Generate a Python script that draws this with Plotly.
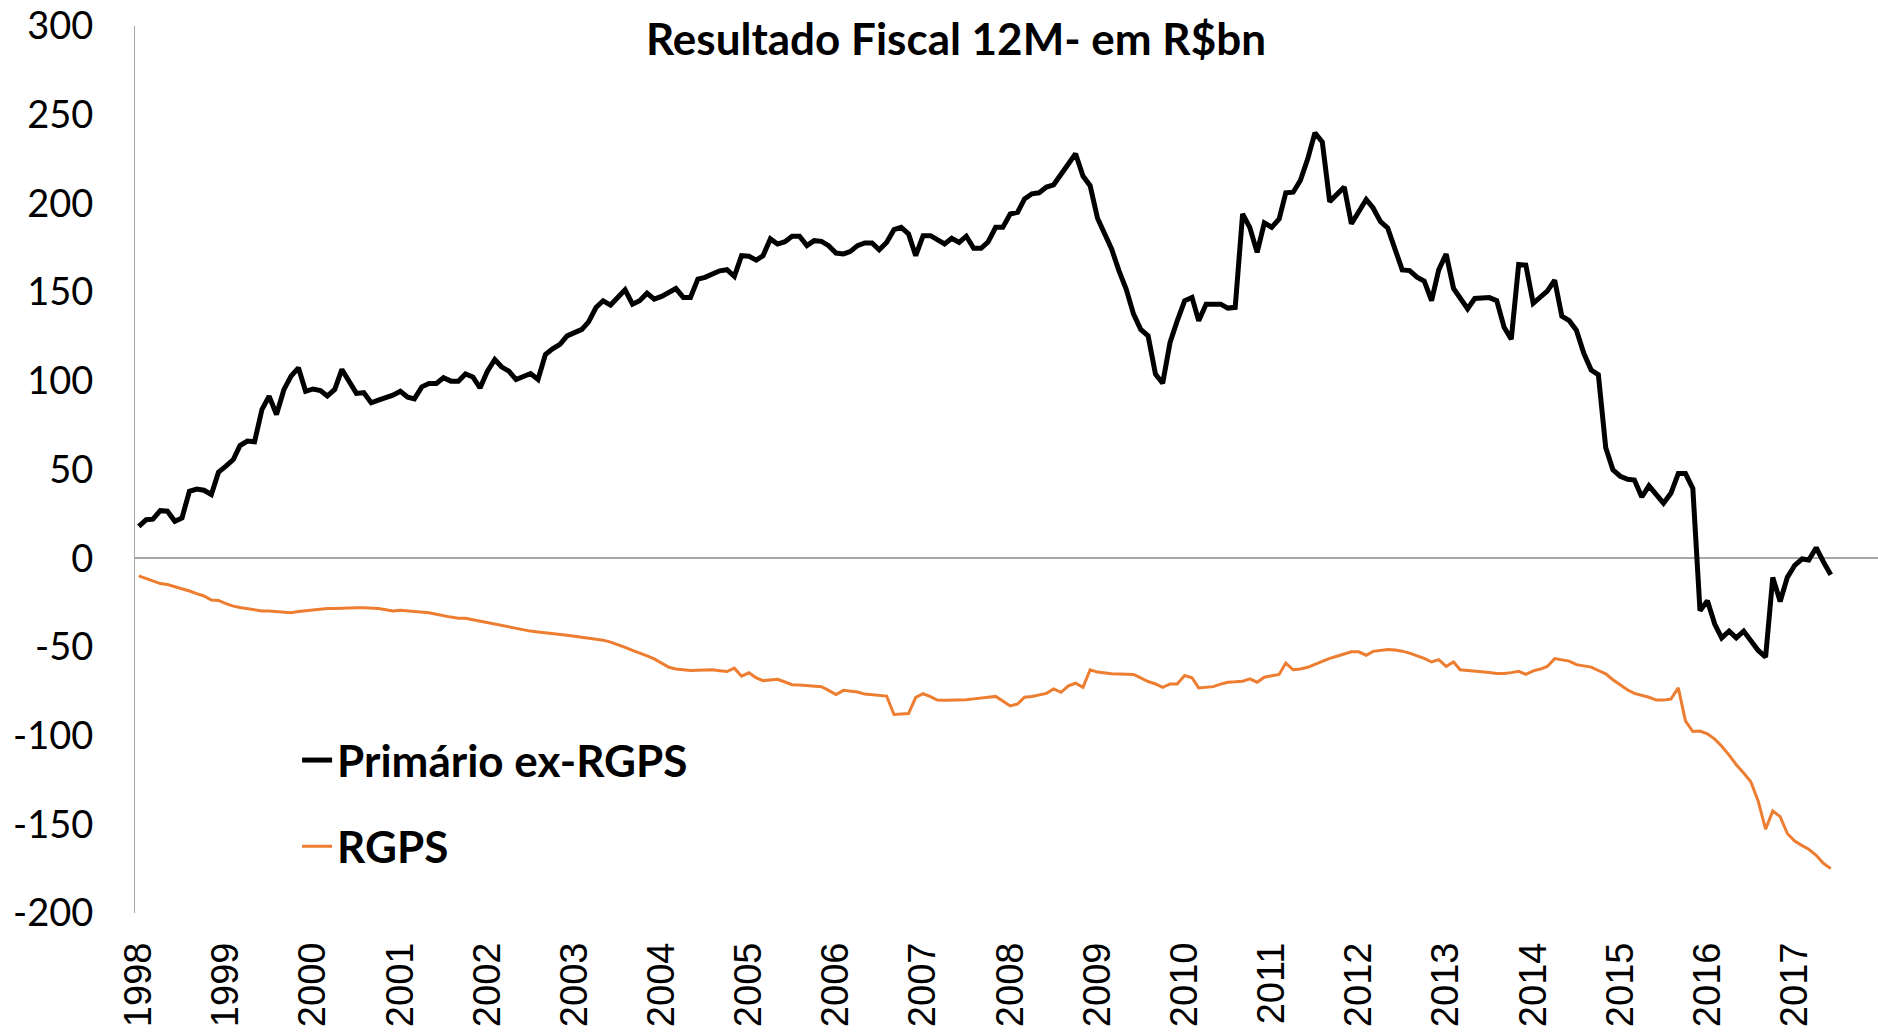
import pandas as pd
import plotly.graph_objects as go

# Monthly 12M fiscal results, R$ bn, Jan 1998 .. Jun 2017
primario_ex_rgps = [
    18, 21.7, 22, 26.8, 26.5, 20.8, 22.7, 37.7, 39, 38.3, 35.9, 48.5,            # 1998
    51.9, 55.6, 63.5, 66, 65.6, 83.8, 91.4, 81, 95, 102.6, 107.3, 94.1,          # 1999
    95.4, 94.5, 91.4, 95.1, 106.4, 98.9, 92.9, 93.3, 87.6, 89.1, 90.4, 91.9,     # 2000
    94.1, 90.8, 89.8, 96.6, 98.5, 98.5, 101.7, 99.8, 99.8, 103.9, 102.2, 96,     # 2001
    105.4, 112, 107.9, 105.4, 100.7, 102.6, 104.1, 100.7, 114.8, 118, 120.6, 125.3,  # 2002
    126.8, 129, 133.2, 141.3, 145.1, 142.7, 147, 151.3, 143.2, 145.1, 149.4, 146,    # 2003
    147.6, 149.8, 152, 147, 147, 157.3, 158.3, 160.2, 162, 162.6, 158.9, 170.5,      # 2004
    170.2, 168, 170.5, 180, 177.1, 178.4, 181.5, 181.5, 176.2, 179, 178.6, 176.2,    # 2005
    172, 171.5, 172.8, 176.2, 177.7, 177.7, 173.9, 178, 185.2, 186.5, 182.8, 170.5,  # 2006
    181.8, 181.8, 179.5, 177.1, 180.3, 178, 181.5, 174.7, 174.7, 178.4, 186.5, 186.5,  # 2007
    194, 195, 202.5, 205.4, 206, 209.2, 210.5, 216.1, 222.3, 228, 215.4, 210,        # 2008
    191.6, 181.8, 174.3, 162, 151.7, 137.6, 129, 125.3, 103.7, 98.6, 121.6, 133.8,   # 2009
    145.1, 147, 133.8, 143.2, 143.2, 143.2, 141, 141.4, 194, 186.5, 172.4, 189,      # 2010
    186.5, 191.2, 206, 206.3, 212.9, 225.1, 239.8, 234.6, 201, 205, 209.2, 188.5,    # 2011
    195.9, 202.2, 197.4, 189.7, 186.2, 174, 162.5, 162.1, 158.4, 156.3, 145.2, 162.5,  # 2012
    171.5, 152.1, 146.4, 140.6, 146.4, 146.9, 146.9, 145.2, 130.2, 123.4, 165.6, 165.2,  # 2013
    143.7, 147.3, 150.6, 156.7, 136.4, 133.9, 128.5, 115.5, 106.1, 103.4, 62.3, 49.8,  # 2014
    46.2, 44.5, 44.1, 34.5, 40.8, 35.8, 31, 36.6, 47.7, 47.7, 39.3, -29.6,           # 2015
    -24, -37.3, -44.9, -41.1, -44.9, -41.1, -46.3, -52, -55.7, -10.8, -24.4, -10.8,  # 2016
    -4, -0.4, -1, 5.9, -2, -9.3,                                                     # 2017
]

rgps = [
    -10, -11.5, -13, -14.3, -14.8, -16, -17.5, -18.5, -20, -21.3, -23.6, -23.8,      # 1998
    -25.6, -27, -27.8, -28.5, -29.3, -29.7, -29.7, -30, -30.4, -30.7, -30, -29.6,    # 1999
    -29.4, -29, -28.4, -28.4, -28.4, -28.2, -28, -27.9, -28.1, -28.4, -29, -29.7,    # 2000
    -29.3, -29.6, -30.1, -30.4, -30.7, -31.6, -32.5, -33.2, -33.8, -33.8, -34.7, -35.5,  # 2001
    -36.3, -37.4, -38.1, -38.9, -39.7, -40.6, -41.1, -41.6, -42, -42.4, -42.8, -43.4,    # 2002
    -44, -44.5, -44.9, -45.4, -46.2, -47.3, -48.6, -50.3, -52, -53.4, -55, -56.8,        # 2003
    -59.3, -61.5, -62.4, -62.9, -63.3, -63.2, -63, -62.9, -63.4, -63.9, -62, -66.5,      # 2004
    -64.6, -67.5, -69, -68.5, -68.3, -69.8, -71.3, -71.5, -71.7, -72, -72.4, -74.5,      # 2005
    -76.9, -74.5, -75, -75.4, -76.6, -77, -77.3, -77.7, -88.1, -87.8, -87.6, -78.5,      # 2006
    -76.4, -78, -80, -80.1, -80.1, -80.1, -79.8, -79.3, -78.8, -78.3, -77.9, -80.5,      # 2007
    -83.3, -82.2, -78.4, -78, -77, -76.2, -73.7, -75.6, -72, -70.5, -72.8, -62.9,        # 2008
    -64.2, -64.8, -65.2, -65.3, -65.4, -65.5, -67.5, -69.5, -70.9, -72.8, -70.9, -70.9,  # 2009
    -66.1, -67.4, -73.1, -72.8, -72.4, -71, -69.9, -69.7, -69.4, -68, -69.9, -67.1,      # 2010
    -66.3, -65.5, -59.1, -62.9, -62.5, -61.5, -59.8, -58, -56.5, -55.3, -54, -52.8,      # 2011
    -52.8, -54.7, -52.5, -51.9, -51.5, -51.8, -52.4, -53.5, -54.8, -56.5, -58.5, -57.2,  # 2012
    -61, -58.5, -62.9, -63.2, -63.5, -63.8, -64.4, -65, -65, -64.5, -63.8, -65.5,        # 2013
    -63.5, -62.5, -61, -56.6, -57.3, -58, -60, -60.9, -61.4, -63.3, -65.2, -68.5,        # 2014
    -71.5, -74.3, -76.2, -77.3, -78.4, -80, -80, -79.4, -73.1, -91.7, -97.7, -97.4,      # 2015
    -99, -102, -106, -111, -116.4, -121.1, -126, -137, -152.7, -142.5, -145.7, -155.2,   # 2016
    -159.5, -162, -164.1, -167.5, -172, -175,                                            # 2017
]

months = pd.date_range("1998-01-01", periods=len(primario_ex_rgps), freq="MS")
year_ticks = [str(y) for y in range(1998, 2018)]
y_ticks = list(range(-200, 301, 50))
y_tick_labels = [str(v) for v in y_ticks]  # ASCII hyphen for negatives, as in the original

fig = go.Figure()
fig.add_trace(go.Scatter(
    x=months, y=primario_ex_rgps, mode="lines", name="Primário ex-RGPS",
    line=dict(color="#000000", width=5), legendgroup="a",
))
fig.add_trace(go.Scatter(
    x=months, y=rgps, mode="lines", name="RGPS",
    line=dict(color="#ED7D31", width=3), legendgroup="b",
))

fig.update_layout(
    width=1878, height=1032,
    margin=dict(l=135, r=0, t=26, b=119, autoexpand=False),
    paper_bgcolor="white", plot_bgcolor="white",
    title=dict(
        text="<b>Resultado Fiscal 12M- em R$bn</b>",
        x=956 / 1878, xref="container", xanchor="center",
        y=1 - 39.5 / 1032, yref="container", yanchor="middle",
        font=dict(family="Lato", size=44, color="#000000"),
    ),
    legend=dict(
        x=0.093, y=0.212, xanchor="left", yanchor="top",
        font=dict(family="Lato", size=44, color="#000000", weight="bold"),
        bgcolor="rgba(0,0,0,0)", tracegroupgap=26, traceorder="grouped",
    ),
    xaxis=dict(
        range=["1997-12-16", "2017-12-16"],
        tickvals=[pd.Timestamp(f"{y}-01-01") for y in range(1998, 2018)],
        ticktext=year_ticks,
        tickangle=-90,
        tickfont=dict(family="Liberation Sans", size=38, color="#000000"),
        showgrid=False, showline=False, zeroline=False, ticks="",
        automargin=False, ticklabelstandoff=21, ticklabeloverflow="allow",
    ),
    yaxis=dict(
        range=[-200, 300],
        tickvals=y_ticks, ticktext=y_tick_labels,
        tickfont=dict(family="Lato", size=38, color="#000000"),
        showgrid=False, showline=True, linecolor="#A6A6A6", linewidth=1.2,
        zeroline=True, zerolinecolor="#A6A6A6", zerolinewidth=1.5,
        ticks="", ticklabelstandoff=33, automargin=False,
        ticklabeloverflow="allow",
    ),
)

# Remove the browser's default 8px body margin so the figure fills the window exactly.
fig.write_html(
    "out.html",
    config={"displayModeBar": False},
    post_script="document.body.style.margin='0';",
)
